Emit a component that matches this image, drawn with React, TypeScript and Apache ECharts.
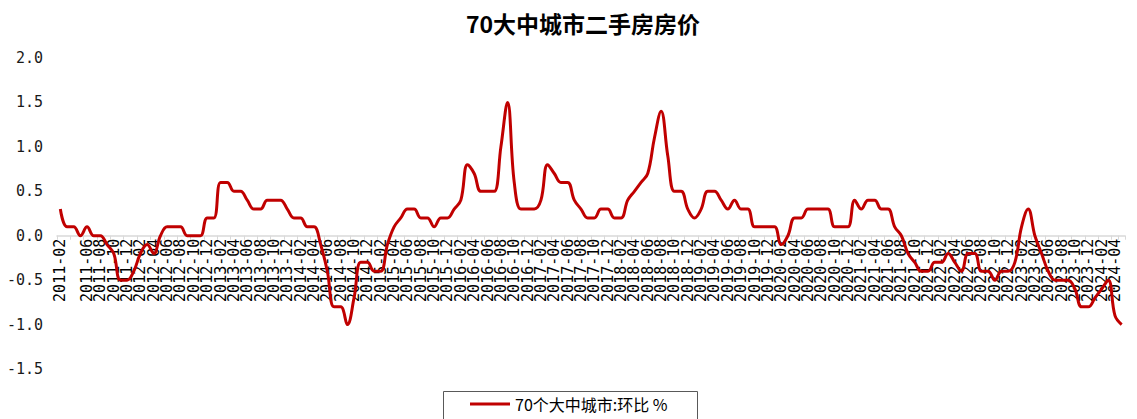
import React, { useEffect, useRef } from "react";
import * as echarts from "echarts";

const startYear = 2011;
const startMonth = 2;
const monthCount = 160;
const categories: string[] = [];
for (let k = 0; k < monthCount; k++) {
  const m0 = startMonth - 1 + k;
  const y = startYear + Math.floor(m0 / 12);
  const m = (m0 % 12) + 1;
  categories.push(`${y}-${m < 10 ? "0" + m : m}`);
}

const seriesName = "70个大中城市:环比 %";
const secondHandMoM: number[] = [
  0.3, 0.1, 0.1, 0.0, 0.1, 0.0, 0.0, -0.1, -0.2, -0.5,
  -0.5, -0.4, -0.2, -0.1, -0.2, 0.0, 0.1, 0.1, 0.1, 0.0,
  0.0, 0.0, 0.2, 0.2, 0.6, 0.6, 0.5, 0.5, 0.4, 0.3,
  0.3, 0.4, 0.4, 0.4, 0.3, 0.2, 0.2, 0.1, 0.1, -0.1,
  -0.4, -0.8, -0.8, -1.0, -0.7, -0.3, -0.3, -0.4, -0.4, -0.1,
  0.1, 0.2, 0.3, 0.3, 0.2, 0.2, 0.1, 0.2, 0.2, 0.3,
  0.4, 0.8, 0.7, 0.5, 0.5, 0.5, 1.0, 1.5, 0.6, 0.3,
  0.3, 0.3, 0.4, 0.8, 0.7, 0.6, 0.6, 0.4, 0.3, 0.2,
  0.2, 0.3, 0.3, 0.2, 0.2, 0.4, 0.5, 0.6, 0.7, 1.1,
  1.4, 0.9, 0.5, 0.5, 0.3, 0.2, 0.3, 0.5, 0.5, 0.4,
  0.3, 0.4, 0.3, 0.3, 0.1, 0.1, 0.1, 0.1, -0.1, 0.0,
  0.2, 0.2, 0.3, 0.3, 0.3, 0.3, 0.1, 0.1, 0.1, 0.4,
  0.3, 0.4, 0.4, 0.3, 0.3, 0.1, 0.0, -0.2, -0.3, -0.4,
  -0.4, -0.3, -0.3, -0.2, -0.3, -0.4, -0.2, -0.2, -0.4, -0.4,
  -0.5, -0.4, -0.4, -0.3, 0.1, 0.3, 0.0, -0.2, -0.4, -0.5,
  -0.5, -0.5, -0.6, -0.8, -0.8, -0.7, -0.6, -0.5, -0.9, -1.0,
];

const titleText = "70大中城市二手房房价";
const yMin = -1.5;
const yMax = 2.0;
const yStep = 0.5;

const W = 1137;
const H = 419;
const gridTop = 58;
const gridBottom = 50;

export default function App() {
  const ref = useRef<HTMLDivElement>(null);
  useEffect(() => {
    if (!ref.current) return;
    const chart = echarts.init(ref.current, null, { renderer: "svg" });
    // distance of the zero line above the grid bottom, from the y scale
    const plotH = H - gridTop - gridBottom;
    const zeroLift = (plotH * (0 - yMin)) / (yMax - yMin);
    const lastCategory = categories[categories.length - 1];
    chart.setOption({
      animation: false,
      backgroundColor: "#ffffff",
      title: {
        text: titleText,
        left: 578,
        top: 6,
        textAlign: "center",
        textStyle: {
          fontSize: 23,
          fontWeight: "bold",
          color: "#000",
          fontFamily: "Noto Sans CJK SC",
        },
      },
      grid: {
        left: 57,
        right: 12,
        top: gridTop,
        bottom: gridBottom,
        containLabel: false,
        outerBoundsMode: "none",
      },
      legend: {
        data: [seriesName],
        left: 470,
        top: 396,
        padding: 0,
        icon: "rect",
        itemWidth: 40,
        itemHeight: 3,
        textStyle: { fontSize: 16, fontFamily: "Noto Sans CJK SC", color: "#000" },
      },
      graphic: [
        {
          type: "rect",
          shape: { x: 443.5, y: 391.5, width: 254, height: 40 },
          style: { fill: "none", stroke: "#595959", lineWidth: 1 },
          silent: true,
        },
      ],
      xAxis: {
        type: "category",
        data: categories,
        boundaryGap: true,
        position: "bottom",
        offset: -zeroLift,
        axisLine: {
          onZero: true,
          lineStyle: { color: "#d9d9d9", width: 1.5 },
        },
        axisTick: { show: true, interval: 1, length: 4, lineStyle: { color: "#d9d9d9" } },
        axisLabel: {
          interval: 1,
          showMinLabel: true,
          showMaxLabel: true,
          rotate: 90,
          margin: 3,
          fontSize: 15,
          lineHeight: 8,
          textMargin: 0,
          fontFamily: "DejaVu Sans Mono",
          color: "#000",
          hideOverlap: false,
          formatter: (v: string) => (v === lastCategory ? "" : v),
        },
        splitLine: { show: false },
      },
      yAxis: {
        type: "value",
        min: yMin,
        max: yMax,
        interval: yStep,
        splitLine: { show: false },
        axisLine: { show: false },
        axisTick: { show: false },
        axisLabel: {
          margin: 14,
          fontSize: 15,
          fontFamily: "DejaVu Sans Mono",
          color: "#1a1a1a",
          formatter: (v: number) => v.toFixed(1),
        },
      },
      series: [
        {
          type: "line",
          name: seriesName,
          data: secondHandMoM,
          smooth: 0.4,
          symbol: "none",
          lineStyle: { color: "#C00000", width: 3 },
          itemStyle: { color: "#C00000" },
          z: 3,
        },
      ],
    });
    return () => chart.dispose();
  }, []);
  return (
    <div
      ref={ref}
      style={{ position: "fixed", left: 0, top: 0, width: W, height: H }}
    />
  );
}
